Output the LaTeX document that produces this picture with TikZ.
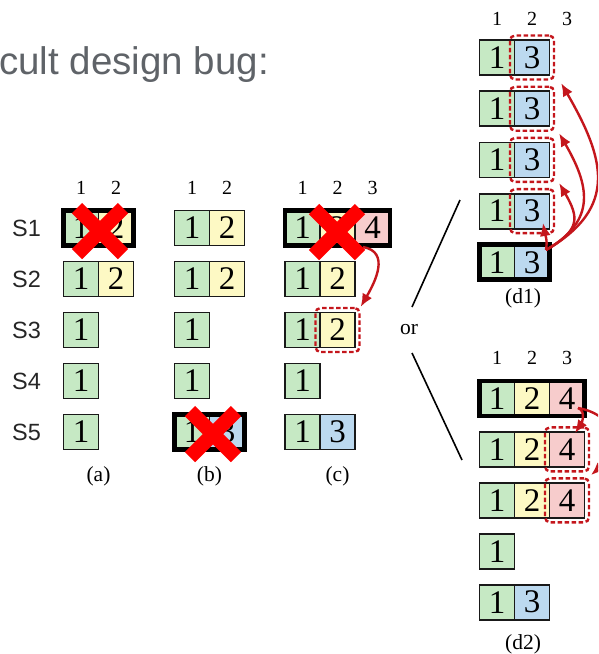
\documentclass[tikz,border=0pt]{standalone}
\usepackage{fontspec}
\setmainfont{Liberation Serif}
\setsansfont{Liberation Sans}
\usetikzlibrary{arrows.meta,fit}
\definecolor{cg}{HTML}{C6E9C4}
\definecolor{cy}{HTML}{FDF9C4}
\definecolor{cp}{HTML}{F7CCCC}
\definecolor{cb}{HTML}{BCD9EF}
\definecolor{dred}{HTML}{C4161C}
\definecolor{titlegray}{HTML}{5F6368}
\begin{document}
\begin{tikzpicture}[x=1pt,y=1pt,
 cell/.style={draw=black!90, line width=1.8pt, minimum width=35pt, minimum height=35pt, inner sep=0pt, outer sep=0pt, font=\fontsize{33}{33}\selectfont},
 gc/.style={cell, fill=cg},
 yc/.style={cell, fill=cy},
 pc/.style={cell, fill=cp},
 bc/.style={cell, fill=cb},
 leadbox/.style={draw=black, line width=4.8pt},
 hdr/.style={font=\fontsize{20}{20}\selectfont, inner sep=0pt},
 sublab/.style={font=\fontsize{21.5}{21.5}\selectfont, inner sep=0pt},
 slab/.style={anchor=west, inner sep=0pt, font=\sffamily\fontsize{23.5}{23.5}\selectfont, text=black!85},
 dbox/.style={draw=dred, line width=2.4pt, dash pattern=on 4.5pt off 2.5pt, rounded corners=5pt, inner sep=4.5pt},
 rarr/.style={draw=dred, line width=2.4pt, -{Latex[length=13pt,width=11pt]}},
 bigx/.style={draw=red, line width=14.5pt},
 sepline/.style={draw=black, line width=1.6pt}
]
\useasboundingbox (0,0) rectangle (598,-654);
\clip (0,0) rectangle (598,-654);

% title
\node[anchor=base west, inner sep=0pt, font=\sffamily\fontsize{38.5}{38.5}\selectfont, text=titlegray] (title) at (-1,-74) {cult design bug:};

% server labels
\node[slab] (s1) at (12,-228) {S1};
\node[slab] (s2) at (12,-279) {S2};
\node[slab] (s3) at (12,-330) {S3};
\node[slab] (s4) at (12,-381) {S4};
\node[slab] (s5) at (12,-432) {S5};

% headers
\node[hdr] (ha1) at (81,-188) {1};
\node[hdr] (ha2) at (116,-188) {2};
\node[hdr] (hb1) at (192,-188) {1};
\node[hdr] (hb2) at (227,-188) {2};
\node[hdr] (hc1) at (302.5,-188) {1};
\node[hdr] (hc2) at (337.5,-188) {2};
\node[hdr] (hc3) at (372.5,-188) {3};
\node[hdr] (hd11) at (497,-18.5) {1};
\node[hdr] (hd12) at (532,-18.5) {2};
\node[hdr] (hd13) at (567,-18.5) {3};
\node[hdr] (hd21) at (497,-358) {1};
\node[hdr] (hd22) at (532,-358) {2};
\node[hdr] (hd23) at (567,-358) {3};

% panel (a)
\node[gc] (a1c1) at (81,-228) {1}; \node[yc] (a1c2) at (116,-228) {2};
\node[gc] (a2c1) at (81,-279) {1}; \node[yc] (a2c2) at (116,-279) {2};
\node[gc] (a3c1) at (81,-330) {1};
\node[gc] (a4c1) at (81,-381) {1};
\node[gc] (a5c1) at (81,-432) {1};
\draw[leadbox] (a1c1.north west) rectangle (a1c2.south east);

% panel (b)
\node[gc] (b1c1) at (192,-228) {1}; \node[yc] (b1c2) at (227,-228) {2};
\node[gc] (b2c1) at (192,-279) {1}; \node[yc] (b2c2) at (227,-279) {2};
\node[gc] (b3c1) at (192,-330) {1};
\node[gc] (b4c1) at (192,-381) {1};
\node[gc] (b5c1) at (192,-432) {1}; \node[bc] (b5c2) at (227,-432) {3};
\draw[leadbox] (b5c1.north west) rectangle (b5c2.south east);

% panel (c)
\node[gc] (c1c1) at (302.5,-228) {1}; \node[yc] (c1c2) at (337.5,-228) {2}; \node[pc] (c1c3) at (372.5,-228) {4};
\node[gc] (c2c1) at (302.5,-279) {1}; \node[yc] (c2c2) at (337.5,-279) {2};
\node[gc] (c3c1) at (302.5,-330) {1}; \node[yc] (c3c2) at (337.5,-330) {2};
\node[gc] (c4c1) at (302.5,-381) {1};
\node[gc] (c5c1) at (302.5,-432) {1}; \node[bc] (c5c2) at (337.5,-432) {3};
\draw[leadbox] (c1c1.north west) rectangle (c1c3.south east);
\node[dbox, fit=(c3c2)] (cbox) {};

% panel (d1)
\node[gc] (d1r1c1) at (497,-57.5) {1}; \node[bc] (d1r1c2) at (532,-57.5) {3};
\node[gc] (d1r2c1) at (497,-108.7) {1}; \node[bc] (d1r2c2) at (532,-108.7) {3};
\node[gc] (d1r3c1) at (497,-159.9) {1}; \node[bc] (d1r3c2) at (532,-159.9) {3};
\node[gc] (d1r4c1) at (497,-211.1) {1}; \node[bc] (d1r4c2) at (532,-211.1) {3};
\node[gc] (d1r5c1) at (497,-262.3) {1}; \node[bc] (d1r5c2) at (532,-262.3) {3};
\draw[leadbox] (d1r5c1.north west) rectangle (d1r5c2.south east);
\node[dbox, fit=(d1r1c2)] (d1b1) {};
\node[dbox, fit=(d1r2c2)] (d1b2) {};
\node[dbox, fit=(d1r3c2)] (d1b3) {};
\node[dbox, fit=(d1r4c2)] (d1b4) {};

% panel (d2)
\node[gc] (d2r1c1) at (497,-398.5) {1}; \node[yc] (d2r1c2) at (532,-398.5) {2}; \node[pc] (d2r1c3) at (567,-398.5) {4};
\node[gc] (d2r2c1) at (497,-449.4) {1}; \node[yc] (d2r2c2) at (532,-449.4) {2}; \node[pc] (d2r2c3) at (567,-449.4) {4};
\node[gc] (d2r3c1) at (497,-500.3) {1}; \node[yc] (d2r3c2) at (532,-500.3) {2}; \node[pc] (d2r3c3) at (567,-500.3) {4};
\node[gc] (d2r4c1) at (497,-551.2) {1};
\node[gc] (d2r5c1) at (497,-602.1) {1}; \node[bc] (d2r5c2) at (532,-602.1) {3};
\draw[leadbox] (d2r1c1.north west) rectangle (d2r1c3.south east);
\node[dbox, fit=(d2r2c3)] (d2b2) {};
\node[dbox, fit=(d2r3c3)] (d2b3) {};

% sub labels
\node[sublab] (la) at (98.5,-476) {(a)};
\node[sublab] (lb) at (209.5,-476) {(b)};
\node[sublab] (lc) at (337.5,-476) {(c)};
\node[sublab] (ld1) at (523,-298) {(d1)};
\node[sublab] (ld2) at (523,-644) {(d2)};
\node[sublab] (or) at (409,-330) {or};

% separator lines
\coordinate (u1) at (460,-200);
\coordinate (u2) at (412,-307);
\coordinate (l1) at (412,-353);
\coordinate (l2) at (462,-460);
\draw[sepline] (u1) -- (u2);
\draw[sepline] (l1) -- (l2);

% arrows (c)
\coordinate (cs) at (363,-247);
\draw[rarr] (cs) to[out=-10,in=60,looseness=1.2] (cbox.north east);

% arrows (d1)
\coordinate (ds) at (546,-250);
\coordinate (t4) at (543,-223);
\draw[rarr] (ds) to[out=80,in=-80] (t4);
\draw[rarr] (ds) to[out=30,in=-60,looseness=1.5] ([shift={(4,0)}]d1b3.south east);
\draw[rarr] (ds) to[out=30,in=-60,looseness=1.3] ([shift={(4,-1.5)}]d1b2.south east);
\draw[rarr] (ds) to[out=30,in=-60,looseness=1.3] ([shift={(6,-2.5)}]d1b1.south east);

% arrows (d2)
\coordinate (es) at (578,-408);
\coordinate (e2) at (575,-433);
\coordinate (e3) at (591,-475);
\draw[rarr] (es) to[out=-20,in=55] (e2);
\draw[rarr] (es) to[out=-10,in=40,looseness=1.5] (e3);

% red crosses
\coordinate (xa) at (100,-231);
\coordinate (xb) at (213,-434);
\coordinate (xc) at (337,-232);
\draw[bigx] (xa) +(-23,-23) -- +(23,23) +(-23,23) -- +(23,-23);
\draw[bigx] (xb) +(-23,-23) -- +(23,23) +(-23,23) -- +(23,-23);
\draw[bigx] (xc) +(-23,-23) -- +(23,23) +(-23,23) -- +(23,-23);
\end{tikzpicture}
\end{document}
